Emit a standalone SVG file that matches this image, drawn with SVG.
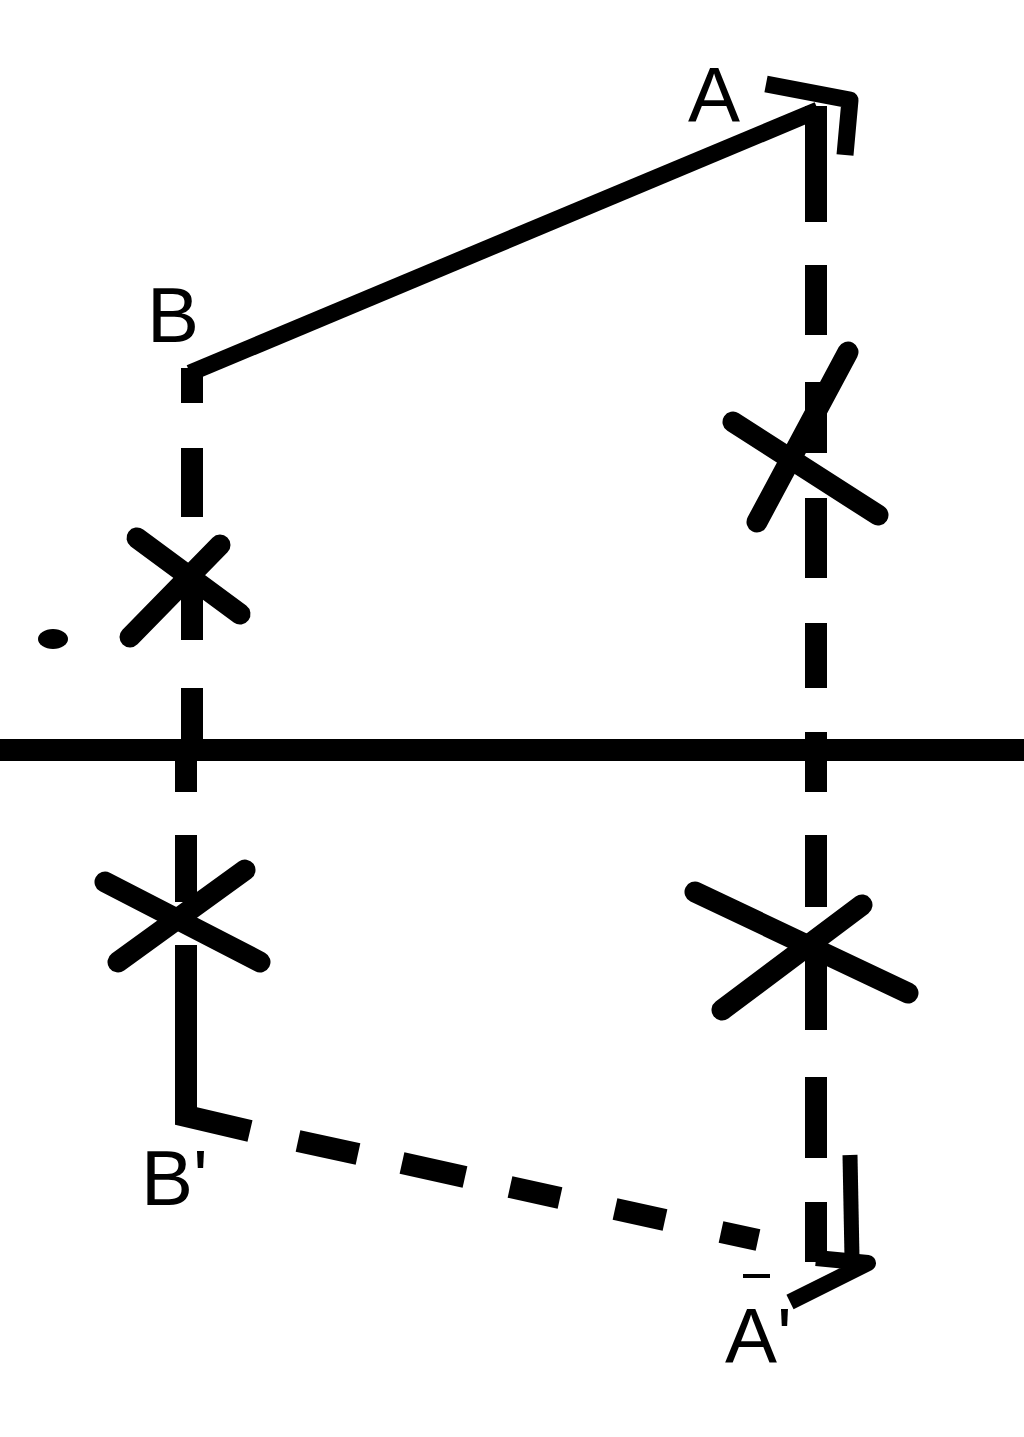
<svg xmlns="http://www.w3.org/2000/svg" width="1024" height="1437" viewBox="0 0 1024 1437">
<style>
.ln{stroke:#000;fill:none;stroke-linecap:butt}
.d{stroke:#000;stroke-width:22;fill:none;stroke-linecap:butt}
.ast{stroke:#000;stroke-width:21;fill:none;stroke-linecap:round}
.lbl{font-family:"Liberation Sans",Arial,sans-serif;font-size:78px;fill:#000}
</style>
<rect width="1024" height="1437" fill="#fff"/>
<g id="axis">
<line class="ln" x1="0" y1="750" x2="1024" y2="750" stroke-width="22"/>
</g>
<g id="connectors">
<path class="ln" d="M190 373 L818 110" stroke-width="17"/>
<path class="ln" d="M766 84 L850 100 L845 155" stroke-width="17" stroke-linejoin="round"/>
<line class="d" x1="816" y1="106" x2="816" y2="222"/>
<line class="d" x1="816" y1="265" x2="816" y2="335"/>
<line class="d" x1="816" y1="382" x2="816" y2="453"/>
<line class="d" x1="816" y1="498" x2="816" y2="578"/>
<line class="d" x1="816" y1="623" x2="816" y2="688"/>
<line class="d" x1="816" y1="732" x2="816" y2="792"/>
<line class="d" x1="816" y1="835" x2="816" y2="907"/>
<line class="d" x1="816" y1="945" x2="816" y2="1030"/>
<line class="d" x1="816" y1="1077" x2="816" y2="1158"/>
<line class="d" x1="816" y1="1202" x2="816" y2="1262"/>
<path class="d" d="M192 403 V368"/>
<line class="d" x1="192" y1="448" x2="192" y2="517"/>
<line class="d" x1="192" y1="570" x2="192" y2="640"/>
<line class="d" x1="192" y1="688" x2="192" y2="750"/>
<line class="d" x1="186" y1="750" x2="186" y2="792"/>
<line class="d" x1="186" y1="835" x2="186" y2="902"/>
<path class="d" d="M186 945 V1116 L250 1131" stroke-linejoin="miter"/>
<line class="d" x1="298" y1="1141" x2="358" y2="1154"/>
<line class="d" x1="402" y1="1163" x2="465" y2="1177"/>
<line class="d" x1="510" y1="1187" x2="560" y2="1198"/>
<line class="d" x1="615" y1="1209" x2="665" y2="1220"/>
<line class="d" x1="721" y1="1232" x2="758" y2="1240"/>
<line class="ln" x1="743" y1="1276" x2="770" y2="1276" stroke-width="4"/>
<path class="ln" d="M850 1155 L852 1258" stroke-width="15"/>
<path class="ln" d="M816 1258 L868 1263 L790 1302" stroke-width="16" stroke-linejoin="round"/>
</g>
<g id="mark-b-upper">
<line class="ast" x1="137" y1="538" x2="240" y2="614"/>
<line class="ast" x1="220" y1="545" x2="130" y2="637"/>
<ellipse cx="53" cy="639" rx="15" ry="10" fill="#000"/>
</g>
<g id="mark-a-upper">
<line class="ast" x1="733" y1="422" x2="878" y2="515"/>
<line class="ast" x1="848" y1="352" x2="757" y2="522"/>
</g>
<g id="mark-b-lower">
<line class="ast" x1="105" y1="882" x2="260" y2="962"/>
<line class="ast" x1="245" y1="870" x2="118" y2="962"/>
</g>
<g id="mark-a-lower">
<line class="ast" x1="695" y1="892" x2="908" y2="993"/>
<line class="ast" x1="862" y1="905" x2="722" y2="1010"/>
</g>
<g id="node-A"><text class="lbl" x="688" y="122">A</text></g>
<g id="node-B"><text class="lbl" x="147" y="342">B</text></g>
<g id="node-B2"><text class="lbl" x="141" y="1205">B'</text></g>
<g id="node-A2"><text class="lbl" x="725" y="1363">A'</text></g>
</svg>
